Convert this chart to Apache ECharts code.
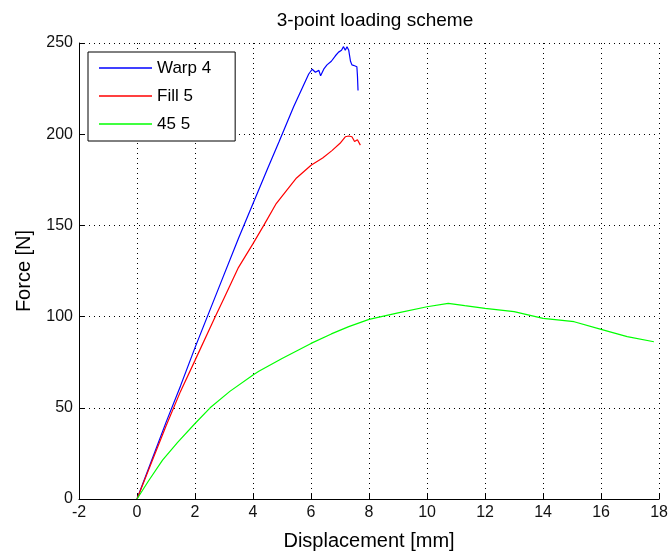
<!DOCTYPE html>
<html>
<head>
<meta charset="utf-8">
<script src="https://cdn.jsdelivr.net/npm/echarts@6/dist/echarts.min.js"></script>
<style>html,body{margin:0;padding:0;background:#fff;}#c{width:671px;height:559px;}</style>
</head>
<body>
<div id="c"></div>
<script>
const seriesNames = ['Warp 4', 'Fill 5', '45 5'];
const warp4 = [[0,0],[0.5,21],[1,42],[1.5,62],[2,83],[2.5,103],[3,123],[3.5,143],[4,162],[4.5,181],[4.9,196],[5.4,215],[5.92,233],[6.04,235.6],[6.15,234],[6.27,235],[6.33,232],[6.45,236],[6.55,238],[6.7,240],[6.84,243],[6.95,245],[7.05,246],[7.12,248],[7.18,246],[7.24,248],[7.3,246],[7.36,240],[7.41,238],[7.5,237.5],[7.58,237],[7.6,232],[7.62,224]];
const fill5 = [[0,0],[0.5,20],[1,40],[1.5,59],[2,76],[2.7,100],[3,110],[3.5,127],[4,140],[4.37,150],[4.8,162],[5.2,170],[5.5,176],[6,183],[6.4,187],[6.72,191],[7.0,195],[7.18,198.6],[7.3,199],[7.41,198.6],[7.5,196],[7.6,197],[7.7,194]];
const g455 = [[0,0],[0.4,10],[0.88,21.3],[1.4,31],[2.0,41.4],[2.52,50],[3.2,59],[4.0,68],[4.2,70],[5,77],[6.0,85.3],[6.7,90.5],[7.3,94.5],[8.0,98.5],[9,102],[10,105.4],[10.73,107.3],[11.3,106],[12,104.5],[13,102.7],[14,99],[15.07,97.2],[16,93],[16.9,89],[17.82,86.2]];
const colors = ['#0000ff', '#ff0000', '#00ff00'];
const font = 'Liberation Sans, Arial, sans-serif';

const chart = echarts.init(document.getElementById('c'), null, {renderer: 'canvas'});
chart.setOption({
  animation: false,
  backgroundColor: '#fff',
  title: {
    text: '3-point loading scheme',
    left: 370, top: 6, textAlign: 'center',
    textStyle: {fontFamily: font, fontSize: 19, fontWeight: 'normal', color: '#000'}
  },
  grid: {left: 79, right: 9, top: 43, bottom: 60, containLabel: false},
  legend: {
    orient: 'vertical', left: 88, top: 52,
    data: seriesNames.map(n => ({name: n, icon: 'rect'})),
    itemWidth: 53, itemHeight: 1.5, itemGap: 10,
    padding: [7, 24, 8, 11],
    borderColor: '#000', borderWidth: 1, backgroundColor: '#fff',
    textStyle: {fontFamily: font, fontSize: 17, color: '#000', lineHeight: 18}
  },
  xAxis: {
    type: 'value', min: -2, max: 18, interval: 2,
    name: 'Displacement [mm]', nameLocation: 'middle', nameGap: 32,
    nameTextStyle: {fontFamily: font, fontSize: 20, color: '#000'},
    axisLine: {show: true, onZero: false, lineStyle: {color: '#000', width: 1}},
    axisTick: {show: true, inside: true, length: 5, lineStyle: {color: '#000'}},
    axisLabel: {fontFamily: font, fontSize: 16, color: '#111', margin: 6},
    splitLine: {show: true, lineStyle: {color: '#000', type: [1, 4], width: 1}}
  },
  yAxis: {
    type: 'value', min: 0, max: 250, interval: 50,
    name: 'Force [N]', nameLocation: 'middle', nameGap: 45,
    nameTextStyle: {fontFamily: font, fontSize: 20, color: '#000'},
    axisLine: {show: true, onZero: false, lineStyle: {color: '#000', width: 1}},
    axisTick: {show: true, inside: true, length: 5, lineStyle: {color: '#000'}},
    axisLabel: {fontFamily: font, fontSize: 16, color: '#111', margin: 6},
    splitLine: {show: true, lineStyle: {color: '#000', type: [1, 4], width: 1}}
  },
  series: [
    {name: seriesNames[0], type: 'line', data: warp4, symbol: 'none', lineStyle: {color: colors[0], width: 1.2}, itemStyle: {color: colors[0]}},
    {name: seriesNames[1], type: 'line', data: fill5, symbol: 'none', lineStyle: {color: colors[1], width: 1.2}, itemStyle: {color: colors[1]}},
    {name: seriesNames[2], type: 'line', data: g455, symbol: 'none', lineStyle: {color: colors[2], width: 1.2}, itemStyle: {color: colors[2]}}
  ]
});
</script>
</body>
</html>
